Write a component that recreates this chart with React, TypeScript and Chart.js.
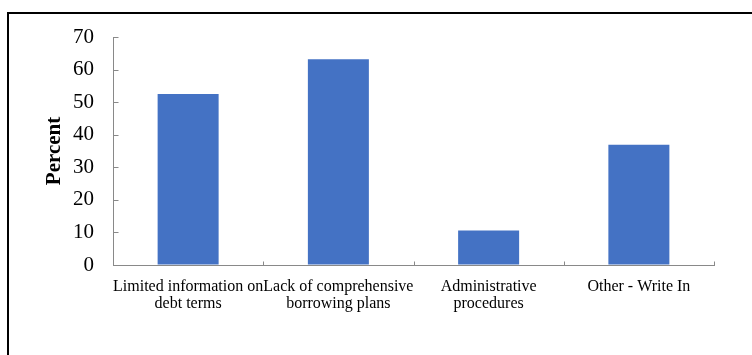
import React, { useEffect, useRef } from "react";
import { Chart, registerables } from "chart.js";

Chart.register(...registerables);

const categories: string[][] = [
  ["Limited information on", "debt terms"],
  ["Lack of comprehensive", "borrowing plans"],
  ["Administrative", "procedures"],
  ["Other - Write In"],
];
const percentValues: number[] = [52.5, 63.2, 10.6, 36.9];
const yTickValues: number[] = [0, 10, 20, 30, 40, 50, 60, 70];

const BAR_COLOR = "#4472C4";
const AXIS_COLOR = "#898989";
const SERIF = "'Liberation Serif', 'Times New Roman', serif";

// Draws the outer frame and the short inward-facing tick marks.
const decorations = {
  id: "decorations",
  beforeDraw(chart: any) {
    const ctx = chart.ctx;
    ctx.save();
    ctx.strokeStyle = "#000";
    ctx.lineWidth = 2;
    ctx.beginPath();
    ctx.moveTo(8, 355);
    ctx.lineTo(8, 13);
    ctx.lineTo(752, 13);
    ctx.stroke();
    ctx.restore();
  },
  afterDraw(chart: any) {
    const ctx = chart.ctx;
    const x = chart.scales.x;
    const y = chart.scales.y;
    ctx.save();
    ctx.strokeStyle = AXIS_COLOR;
    ctx.lineWidth = 1;
    ctx.beginPath();
    const left = Math.round(x.left) + 0.5;
    for (const v of yTickValues) {
      const py = Math.round(y.getPixelForValue(v)) + 0.5;
      ctx.moveTo(left, py);
      ctx.lineTo(left + 5, py);
    }
    const bottom = Math.round(y.bottom) + 0.5;
    const n = categories.length;
    const step = (x.right - x.left) / n;
    for (let i = 0; i <= n; i++) {
      const px = Math.round(x.getPixelForValue(0) - step / 2 + i * step) + 0.5;
      ctx.moveTo(px, bottom);
      ctx.lineTo(px, bottom - 4);
    }
    ctx.stroke();
    ctx.restore();
  },
};

export default function App() {
  const canvasRef = useRef<HTMLCanvasElement | null>(null);

  useEffect(() => {
    if (!canvasRef.current) return;
    const chart = new Chart(canvasRef.current, {
      type: "bar",
      data: {
        labels: categories,
        datasets: [
          {
            label: "Percent",
            data: percentValues,
            backgroundColor: BAR_COLOR,
            borderWidth: 0,
            categoryPercentage: 1,
            barPercentage: 0.406,
          },
        ],
      },
      options: {
        animation: false,
        responsive: false,
        devicePixelRatio: 1,
        layout: { padding: { left: 38, top: 37, right: 38, bottom: 0 } },
        plugins: {
          legend: { display: false },
          tooltip: { enabled: false },
        },
        scales: {
          x: {
            grid: { display: true, drawOnChartArea: false, drawTicks: false },
            border: { color: AXIS_COLOR, width: 1 },
            ticks: {
              color: "#000",
              autoSkip: false,
              maxRotation: 0,
              minRotation: 0,
              padding: 13,
              font: { family: SERIF, size: 16, lineHeight: 1.07 },
            },
            afterFit: (scale: any) => {
              scale.height = 90;
            },
          },
          y: {
            min: 0,
            max: 70,
            grid: { display: true, drawOnChartArea: false, drawTicks: false },
            border: { color: AXIS_COLOR, width: 1 },
            ticks: {
              stepSize: 10,
              color: "#000",
              padding: 19,
              font: { family: SERIF, size: 21 },
            },
            title: {
              display: true,
              text: "Percent",
              color: "#000",
              padding: { top: 4, bottom: 0 },
              font: { family: SERIF, size: 21, weight: "bold" },
            },
            afterFit: (scale: any) => {
              scale.width = 75;
            },
          },
        },
      },
      plugins: [decorations],
    });
    return () => chart.destroy();
  }, []);

  return (
    <div style={{ position: "fixed", left: 0, top: 0, width: 752, height: 355, background: "#fff" }}>
      <canvas ref={canvasRef} width={752} height={355} style={{ display: "block" }} />
    </div>
  );
}
